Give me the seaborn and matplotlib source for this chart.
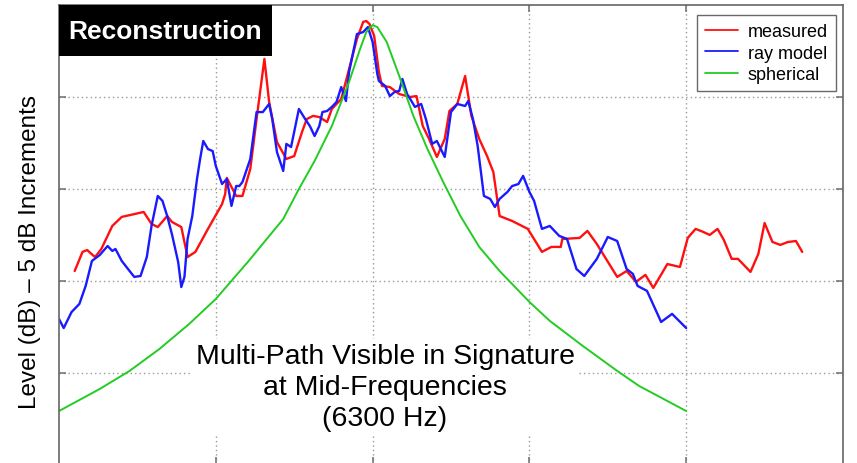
import numpy as np
import pandas as pd
import matplotlib
matplotlib.use("Agg")
import matplotlib.pyplot as plt
from matplotlib.patches import Rectangle
import seaborn as sns

# ---------------- data ----------------
# x: time relative to closest approach (grid units), y: level in dB (5 dB per grid)
measured_x = [-1.90, -1.85, -1.82, -1.80, -1.77, -1.73, -1.66, -1.60, -1.46, -1.41,
              -1.37, -1.31, -1.28, -1.22, -1.18, -1.13, -1.05, -0.96, -0.94, -0.93,
              -0.87, -0.83, -0.78, -0.74, -0.69, -0.66, -0.61, -0.55, -0.50, -0.45,
              -0.42, -0.38, -0.34, -0.29, -0.26, -0.20, -0.15, -0.10, -0.06, -0.04,
              -0.02, 0.01, 0.04, 0.06, 0.11, 0.17, 0.24, 0.28, 0.32, 0.36,
              0.41, 0.46, 0.49, 0.54, 0.59, 0.63, 0.68, 0.73, 0.77, 0.81,
              0.89, 0.99, 1.08, 1.14, 1.20, 1.21, 1.32, 1.37, 1.43, 1.56,
              1.62, 1.68, 1.74, 1.79, 1.88, 1.96, 2.01, 2.06, 2.11, 2.15,
              2.20, 2.24, 2.29, 2.33, 2.38, 2.41, 2.46, 2.50, 2.55, 2.60,
              2.65, 2.70, 2.74]
measured_db = [-14.46, -13.42, -13.32, -13.48, -13.70, -13.26, -12.01, -11.52, -11.25, -11.90,
               -12.07, -11.47, -11.79, -12.07, -13.70, -13.42, -12.17, -10.82, -10.27, -9.40,
               -10.38, -10.38, -8.91, -6.20, -2.93, -5.27, -7.45, -8.37, -8.21, -6.90,
               -6.20, -6.03, -6.09, -6.36, -5.65, -5.11, -3.48, -1.85, -0.92, -0.87,
               -1.03, -1.68, -3.64, -4.40, -4.46, -4.84, -5.00, -4.95, -6.58, -7.28,
               -8.26, -7.28, -5.76, -5.38, -3.86, -6.03, -7.28, -8.21, -9.08, -11.47,
               -11.74, -12.17, -13.42, -13.15, -13.15, -12.72, -12.66, -12.28, -12.99, -14.78,
               -14.46, -15.05, -14.67, -15.38, -14.08, -14.24, -12.66, -12.17, -12.34, -12.50,
               -12.17, -12.77, -13.80, -13.80, -14.24, -14.51, -13.53, -11.85, -12.88, -13.04,
               -12.88, -12.83, -13.42]

ray_x = [-2.00, -1.97, -1.92, -1.87, -1.83, -1.79, -1.74, -1.69, -1.66, -1.64,
         -1.60, -1.56, -1.52, -1.48, -1.44, -1.41, -1.37, -1.34, -1.31, -1.28,
         -1.24, -1.22, -1.20, -1.18, -1.15, -1.12, -1.10, -1.08, -1.05, -1.02,
         -1.00, -0.96, -0.93, -0.90, -0.87, -0.85, -0.83, -0.78, -0.74, -0.70,
         -0.66, -0.64, -0.61, -0.57, -0.55, -0.52, -0.47, -0.43, -0.40, -0.37,
         -0.34, -0.32, -0.29, -0.26, -0.23, -0.20, -0.17, -0.15, -0.10, -0.06,
         -0.03, 0.00, 0.03, 0.04, 0.08, 0.11, 0.14, 0.17, 0.19, 0.22,
         0.24, 0.27, 0.31, 0.34, 0.38, 0.41, 0.46, 0.50, 0.54, 0.59,
         0.61, 0.64, 0.67, 0.71, 0.75, 0.78, 0.81, 0.86, 0.89, 0.93,
         0.96, 1.00, 1.03, 1.08, 1.13, 1.19, 1.24, 1.30, 1.35, 1.43,
         1.50, 1.56, 1.62, 1.66, 1.69, 1.75, 1.84, 1.91, 2.00]
ray_db = [-17.07, -17.56, -16.69, -16.25, -15.27, -13.91, -13.59, -13.10, -13.37, -13.26,
          -13.91, -14.35, -14.78, -14.73, -13.70, -12.01, -10.38, -10.65, -11.47, -12.45,
          -13.97, -15.33, -14.78, -12.72, -11.47, -9.46, -8.37, -7.39, -7.83, -7.94,
          -8.75, -9.73, -9.46, -10.92, -9.84, -9.84, -9.62, -8.37, -5.82, -5.82,
          -5.38, -6.20, -7.99, -9.02, -7.55, -7.72, -5.65, -6.20, -6.58, -7.12,
          -6.58, -5.82, -5.76, -5.54, -5.27, -4.46, -5.22, -3.64, -1.58, -1.47,
          -1.20, -2.01, -3.75, -4.13, -4.40, -4.95, -4.73, -4.67, -4.02, -4.84,
          -5.11, -5.54, -5.38, -6.20, -7.55, -7.39, -8.26, -5.82, -5.38, -5.49,
          -5.22, -6.20, -7.66, -10.38, -10.54, -10.98, -10.54, -10.16, -9.84, -9.73,
          -9.29, -10.16, -10.65, -12.17, -12.01, -12.55, -12.72, -14.35, -14.73, -13.80,
          -12.61, -12.83, -14.35, -14.62, -15.27, -15.54, -17.23, -16.79, -17.56]

spherical_x = [-2.00, -1.74, -1.55, -1.36, -1.17, -1.00, -0.79, -0.57, -0.47, -0.37,
               -0.26, -0.15, -0.08, -0.04, 0.00, 0.03, 0.09, 0.17, 0.26, 0.35,
               0.45, 0.56, 0.68, 0.81, 1.00, 1.13, 1.34, 1.56, 1.70, 2.00]
spherical_db = [-22.07, -20.87, -19.89, -18.70, -17.34, -15.98, -13.91, -11.63, -10.00, -8.48,
                -6.58, -4.18, -2.39, -1.47, -1.09, -1.20, -2.01, -3.86, -6.03, -7.83,
                -9.62, -11.47, -13.15, -14.46, -16.14, -17.17, -18.53, -19.89, -20.71, -22.07]

series_names = ["measured", "ray model", "spherical"]
series_colors = ["#ff1010", "#1a1aff", "#22cc22"]
x_grid = [-1, 0, 1, 2]
y_grid = [-5, -10, -15, -20]

title_label = "Reconstruction"
y_label = "Level (dB) \u2013 5 dB Increments"
note = "Multi-Path Visible in Signature\nat Mid-Frequencies\n(6300 Hz)"

# ---------------- styling ----------------
sns.set_style("white")
plt.rcParams["font.family"] = ["Liberation Sans", "DejaVu Sans"]
plt.rcParams["text.color"] = "black"

fig = plt.figure(figsize=(8.57, 4.64), dpi=100)
ax = fig.add_axes([59 / 857, -1 / 464, 784 / 857, 459 / 464])

frames = [
    pd.DataFrame({"x": measured_x, "y": measured_db}),
    pd.DataFrame({"x": ray_x, "y": ray_db}),
    pd.DataFrame({"x": spherical_x, "y": spherical_db}),
]
widths = [1.7, 1.7, 1.4]
for df, name, col, lw in zip(frames, series_names, series_colors, widths):
    sns.lineplot(data=df, x="x", y="y", color=col, label=name, linewidth=lw,
                 sort=False, estimator=None, ax=ax)

ax.set_xlim(-2.0, 3.0)
ax.set_ylim(-24.95, 0)
ax.set_xticks(x_grid)
ax.set_yticks(y_grid)
ax.set_xticklabels([])
ax.set_yticklabels([])
ax.set_xlabel("")
ax.set_ylabel("")
ax.grid(True, color="#9a9a9a", linestyle=(0, (1, 2.2)), linewidth=1.0)
ax.tick_params(direction="in", length=5, width=1.2, color="#777777",
               top=True, right=True, bottom=True, left=True)
for s in ax.spines.values():
    s.set_color("#666666")
    s.set_linewidth(1.2)

# title box
ax.add_patch(Rectangle((0, 1 - 51 / 459), 213 / 784, 51 / 459, transform=ax.transAxes,
                       facecolor="black", edgecolor="none", zorder=5, clip_on=False))
ax.text(106 / 784, 1 - 26 / 459, title_label, transform=ax.transAxes, color="white",
        fontsize=19, fontweight="bold", ha="center", va="center", zorder=6)

# annotation (white box hides the grid but stays under the curves)
ax.text((385 - 59) / 784, 1 - (388 - 6) / 459, note, transform=ax.transAxes,
        fontsize=20.5, color="black", ha="center", va="center", linespacing=1.25,
        zorder=1.8, bbox=dict(facecolor="white", edgecolor="none", pad=3))

# y label
fig.text(30 / 857, 1 - 252 / 464, y_label, rotation=90, ha="center", va="center",
         fontsize=17.5, color="black")

leg = ax.legend(loc="upper right", bbox_to_anchor=(1 - 7 / 784, 1 - 10 / 459),
                borderaxespad=0, fontsize=13, frameon=True, fancybox=False,
                handlelength=1.8, handletextpad=0.55, labelspacing=0.25,
                borderpad=0.45)
leg.get_frame().set_edgecolor("#444444")
leg.get_frame().set_linewidth(1.0)
for t in leg.get_texts():
    t.set_color("black")
for line in leg.get_lines():
    line.set_linewidth(1.3)

fig.savefig("out.png", dpi=100)
